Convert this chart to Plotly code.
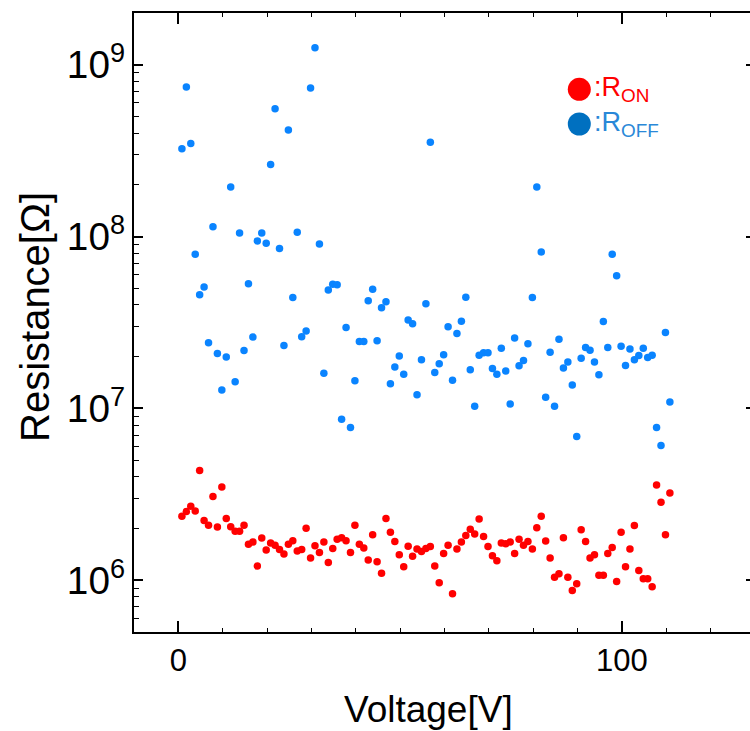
import plotly.graph_objects as go

# Voltage sweep (V)
voltage = [0.8, 1.8, 2.8, 3.8, 4.8, 5.8, 6.8, 7.8, 8.8, 9.8,
           10.8, 11.8, 12.8, 13.8, 14.8, 15.8, 16.8, 17.8, 18.8, 19.8,
           20.8, 21.8, 22.8, 23.8, 24.8, 25.8, 26.8, 27.8, 28.8, 29.8,
           30.8, 31.8, 32.8, 33.8, 34.8, 35.8, 36.8, 37.8, 38.8, 39.8,
           40.8, 41.8, 42.8, 43.8, 44.8, 45.8, 46.8, 47.8, 48.8, 49.8,
           50.8, 51.8, 52.8, 53.8, 54.8, 55.8, 56.8, 57.8, 58.8, 59.8,
           60.8, 61.8, 62.8, 63.8, 64.8, 65.8, 66.8, 67.8, 68.8, 69.8,
           70.8, 71.8, 72.8, 73.8, 74.8, 75.8, 76.8, 77.8, 78.8, 79.8,
           80.8, 81.8, 82.8, 83.8, 84.8, 85.8, 86.8, 87.8, 88.8, 89.8,
           90.8, 91.8, 92.8, 93.8, 94.8, 95.8, 96.8, 97.8, 98.8, 99.8,
           100.8, 101.8, 102.8, 103.8, 104.8, 105.8, 106.8, 107.8, 108.8, 109.8,
           110.8]

r_on = [2.36e6, 2.51e6, 2.70e6, 2.53e6, 4.36e6, 2.23e6, 2.09e6, 3.07e6, 2.04e6, 3.49e6,
        2.29e6, 2.05e6, 1.93e6, 1.93e6, 2.09e6, 1.62e6, 1.67e6, 1.21e6, 1.76e6, 1.50e6,
        1.65e6, 1.60e6, 1.51e6, 1.42e6, 1.62e6, 1.70e6, 1.48e6, 1.51e6, 2.01e6, 1.35e6,
        1.59e6, 1.45e6, 1.67e6, 1.27e6, 1.53e6, 1.73e6, 1.77e6, 1.70e6, 1.45e6, 2.09e6,
        1.62e6, 1.54e6, 1.31e6, 1.84e6, 1.28e6, 1.10e6, 2.29e6, 1.90e6, 1.68e6, 1.41e6,
        1.20e6, 1.58e6, 1.38e6, 1.52e6, 1.47e6, 1.53e6, 1.57e6, 1.21e6, 9.67e5, 1.43e6,
        1.60e6, 8.35e5, 1.52e6, 1.67e6, 1.82e6, 1.98e6, 1.86e6, 2.27e6, 1.80e6, 1.57e6,
        1.39e6, 1.30e6, 1.65e6, 1.63e6, 1.67e6, 1.43e6, 1.73e6, 1.60e6, 1.68e6, 1.52e6,
        2.02e6, 2.36e6, 1.69e6, 1.35e6, 1.04e6, 1.09e6, 1.77e6, 1.04e6, 8.73e5, 9.54e5,
        1.97e6, 1.68e6, 1.35e6, 1.41e6, 1.07e6, 1.07e6, 1.43e6, 1.55e6, 9.85e5, 1.90e6,
        1.20e6, 1.52e6, 2.08e6, 1.14e6, 1.02e6, 1.02e6, 9.17e5, 3.58e6, 2.84e6, 1.84e6,
        3.22e6]

r_off = [3.24e8, 7.41e8, 3.48e8, 7.89e7, 4.58e7, 5.08e7, 2.41e7, 1.14e8, 2.09e7, 1.28e7,
         1.99e7, 1.94e8, 1.43e7, 1.05e8, 2.17e7, 5.31e7, 2.60e7, 9.43e7, 1.05e8, 9.14e7,
         2.63e8, 5.55e8, 8.51e7, 2.32e7, 4.17e8, 4.42e7, 1.06e8, 2.61e7, 2.82e7, 7.31e8,
         1.255e9, 9.06e7, 1.60e7, 4.88e7, 5.28e7, 5.24e7, 8.66e6, 2.96e7, 7.75e6, 1.45e7,
         2.45e7, 2.45e7, 4.23e7, 4.94e7, 2.48e7, 3.85e7, 4.17e7, 1.39e7, 1.74e7, 2.02e7,
         1.58e7, 3.27e7, 3.11e7, 1.20e7, 1.92e7, 4.06e7, 3.54e8, 1.62e7, 1.82e7, 2.05e7,
         2.99e7, 1.46e7, 2.73e7, 3.22e7, 4.44e7, 1.68e7, 1.03e7, 2.04e7, 2.11e7, 2.11e7,
         1.71e7, 1.58e7, 2.24e7, 1.65e7, 1.06e7, 2.57e7, 1.77e7, 1.90e7, 2.38e7, 4.42e7,
         1.94e8, 8.14e7, 1.16e7, 2.12e7, 1.03e7, 2.53e7, 1.72e7, 1.86e7, 1.37e7, 6.87e6,
         1.96e7, 2.26e7, 2.18e7, 1.86e7, 1.57e7, 3.21e7, 2.26e7, 7.89e7, 5.91e7, 2.30e7,
         1.78e7, 2.22e7, 1.92e7, 2.03e7, 2.24e7, 1.98e7, 2.04e7, 7.75e6, 6.09e6, 2.77e7,
         1.09e7]

x_title = "Voltage[V]"
y_title = "Resistance[Ω]"

FONT = "Liberation Sans, Arial, sans-serif"
RED = "#ff0000"
BLUE = "#0a84ff"

# plot-area geometry in pixels (figure 750 x 731)
L, R, T, B = 134, 750, 13, 632
PW, PH = R - L, B - T

fig = go.Figure()
fig.add_trace(go.Scatter(x=voltage, y=r_off, mode="markers",
                         marker=dict(color=BLUE, size=7.5, line=dict(width=0)),
                         showlegend=False))
fig.add_trace(go.Scatter(x=voltage, y=r_on, mode="markers",
                         marker=dict(color=RED, size=7.5, line=dict(width=0)),
                         showlegend=False))
# invisible trace to carry a right-hand log axis (ticks only)
fig.add_trace(go.Scatter(x=[voltage[0]], y=[r_on[0]], yaxis="y2", mode="markers",
                         marker=dict(opacity=0), showlegend=False, hoverinfo="skip"))

fig.update_layout(
    width=750, height=731,
    margin=dict(l=L, r=750 - R, t=T, b=731 - B),
    paper_bgcolor="white", plot_bgcolor="white",
    font=dict(family=FONT, color="black"),
    xaxis=dict(
        range=[-10, 128.86], tickvals=[0, 100], ticktext=["0", "100"],
        ticks="inside", ticklen=11, tickwidth=1.5, tickcolor="black",
        minor=dict(tickvals=[10, 20, 30, 40, 50, 60, 70, 80, 90, 110, 120],
                   ticks="inside", ticklen=4, tickwidth=1.2, tickcolor="black"),
        showline=True, linewidth=1.5, linecolor="black", mirror="ticks",
        showgrid=False, zeroline=False,
        tickfont=dict(size=31, family=FONT),
    ),
    yaxis=dict(
        type="log", range=[5.699, 9.301], dtick=1,
        exponentformat="power", showexponent="all",
        ticks="inside", ticklen=9, tickwidth=1.5, tickcolor="black",
        minor=dict(dtick="D1", ticks="inside", ticklen=5, tickwidth=1.2,
                   tickcolor="black", showgrid=False),
        showline=True, linewidth=1.5, linecolor="black",
        showgrid=False, zeroline=False,
        tickfont=dict(size=31, family=FONT), ticklabelstandoff=1,
    ),
    yaxis2=dict(
        type="log", range=[5.699, 9.301], dtick=1, overlaying="y", side="right",
        anchor="x", ticks="inside", ticklen=4, tickwidth=1.5, tickcolor="black",
        showticklabels=False, showline=False, showgrid=False, zeroline=False,
    ),
)

# axis titles
fig.add_annotation(xref="paper", yref="paper", x=(428 - L) / PW, y=(B - 709) / PH,
                   xanchor="center", yanchor="middle", showarrow=False,
                   text=x_title, font=dict(size=37, family=FONT))
fig.add_annotation(xref="paper", yref="paper", x=(35 - L) / PW, y=(B - 317) / PH,
                   xanchor="center", yanchor="middle", showarrow=False, textangle=-90,
                   text=y_title, font=dict(size=40, family=FONT))

# hand-made key in the upper right
key = [(":R<sub>ON</sub>", RED, RED, 89.3),
       (":R<sub>OFF</sub>", "#0070c0", "#2a88d8", 124.0)]
for text, dot_col, txt_col, ypix in key:
    yp = (B - ypix) / PH
    fig.add_shape(type="circle", xref="paper", yref="paper",
                  xsizemode="pixel", ysizemode="pixel",
                  xanchor=(579.3 - L) / PW, yanchor=yp,
                  x0=-11.5, x1=11.5, y0=-11.5, y1=11.5,
                  fillcolor=dot_col, line=dict(width=0))
    fig.add_annotation(xref="paper", yref="paper", x=(592 - L) / PW, y=yp,
                       xanchor="left", yanchor="middle", showarrow=False,
                       text=text, font=dict(size=27, family=FONT, color=txt_col))

fig.write_html("out.html")
